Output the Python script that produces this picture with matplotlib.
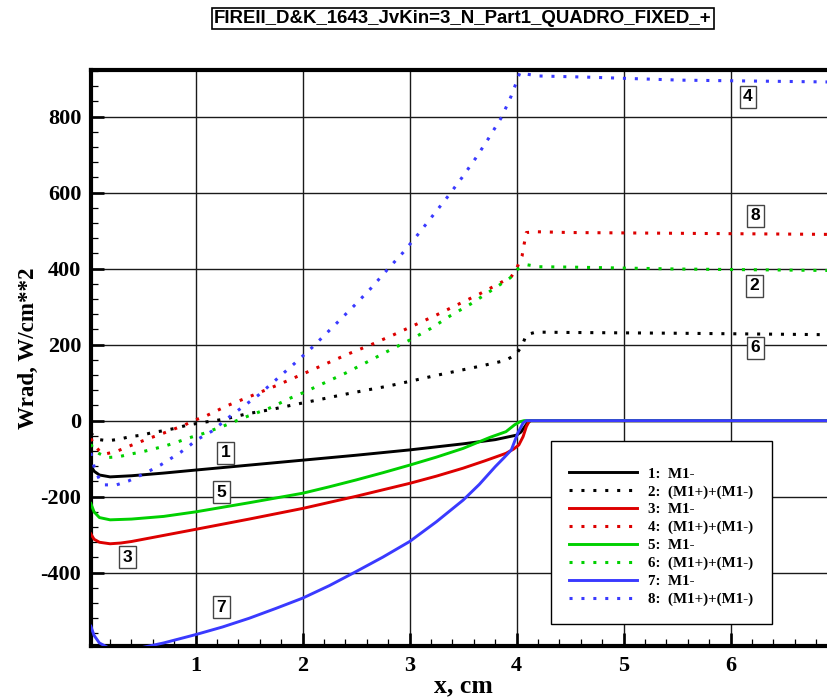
import matplotlib
matplotlib.use("Agg")
import matplotlib.pyplot as plt
from matplotlib.ticker import MultipleLocator, FixedLocator
from matplotlib.patches import Rectangle

plt.rcParams["axes.unicode_minus"] = False

# ---- data -------------------------------------------------------------
title = "FIREII_D&K_1643_JvKin=3_N_Part1_QUADRO_FIXED_+"
x_label = "x, cm"
y_label = "Wrad, W/cm**2"
x_ticks = [1, 2, 3, 4, 5, 6]
y_ticks = [-400, -200, 0, 200, 400, 600, 800]

legend_labels = ["1:  M1-", "2:  (M1+)+(M1-)", "3:  M1-", "4:  (M1+)+(M1-)",
                 "5:  M1-", "6:  (M1+)+(M1-)", "7:  M1-", "8:  (M1+)+(M1-)"]

x1 = [0.02, 0.05, 0.1, 0.2, 0.4, 0.7, 1.0, 1.5, 2.0, 2.5, 3.0, 3.5, 3.8, 3.9,
      4.0, 4.04, 4.07, 4.1, 4.13, 4.2, 6.97]
y1 = [-118, -133, -143, -148, -145, -138, -130, -117, -104, -91, -77, -61, -50,
      -44, -38, -30, -18, -6, 0, 0, 0]

x2 = [0.02, 0.05, 0.1, 0.18, 0.28, 0.39, 0.5, 0.6, 0.71, 0.81, 0.92, 1.06, 1.27,
      1.48, 1.7, 1.92, 2.15, 2.37, 2.59, 2.8, 3.01, 3.23, 3.45, 3.67, 3.89, 3.99,
      4.05, 4.09, 4.18, 4.5, 5.5, 6.97]
y2 = [-32, -42, -50, -53, -49, -42, -38, -31, -26, -20, -12, -5, 4, 18, 29, 42,
      55, 68, 80, 91, 104, 118, 131, 144, 158, 173, 197, 226, 233, 232, 230, 226]

x3 = [0.02, 0.05, 0.1, 0.2, 0.3, 0.4, 0.7, 1.0, 1.5, 2.0, 2.25, 2.5, 2.75, 3.0,
      3.25, 3.5, 3.7, 3.9, 3.97, 4.02, 4.06, 4.09, 4.12, 4.2, 6.97]
y3 = [-298, -312, -320, -324, -322, -318, -302, -286, -259, -231, -215, -199,
      -182, -165, -146, -125, -106, -86, -75, -64, -42, -16, 0, 0, 0]

x4 = [0.02, 0.05, 0.1, 0.15, 0.26, 0.37, 0.46, 0.57, 0.68, 0.79, 0.9, 0.98, 1.1,
      1.3, 1.51, 1.76, 2.02, 2.22, 2.43, 2.64, 2.85, 3.05, 3.25, 3.46, 3.65,
      3.85, 3.95, 4.0, 4.05, 4.07, 4.09, 4.19, 4.5, 5.5, 6.97]
y4 = [-47, -62, -80, -88, -81, -68, -58, -46, -35, -23, -11, 0, 13, 40, 64, 93,
      125, 150, 176, 200, 226, 252, 278, 307, 333, 363, 379, 401, 433, 465, 495,
      497, 495, 493, 490]

x5 = [0.02, 0.05, 0.1, 0.2, 0.4, 0.7, 1.0, 1.5, 2.0, 2.25, 2.5, 2.75, 3.0, 3.25,
      3.5, 3.75, 3.9, 3.98, 4.03, 4.07, 4.2, 6.97]
y5 = [-218, -240, -255, -261, -259, -252, -240, -216, -191, -174, -156, -137,
      -117, -96, -73, -44, -29, -11, -3, 0, 0, 0]

x6 = [0.02, 0.05, 0.1, 0.18, 0.28, 0.39, 0.5, 0.6, 0.71, 0.82, 0.93, 1.07, 1.27,
      1.48, 1.69, 1.89, 2.0, 2.2, 2.4, 2.6, 2.79, 3.0, 3.2, 3.38, 3.57, 3.76,
      3.94, 4.01, 4.1, 4.21, 4.5, 5.5, 6.97]
y6 = [-62, -78, -87, -97, -95, -88, -82, -75, -67, -57, -46, -34, -13, 11, 33,
      60, 73, 99, 125, 154, 182, 212, 243, 276, 307, 342, 376, 399, 410, 405,
      404, 399, 395]

x7 = [0.02, 0.05, 0.1, 0.2, 0.35, 0.5, 0.7, 1.0, 1.25, 1.5, 1.75, 2.0, 2.25,
      2.5, 2.75, 3.0, 3.25, 3.5, 3.65, 3.8, 3.88, 3.95, 4.01, 4.06, 4.09, 4.2,
      6.97]
y7 = [-541, -565, -585, -600, -603, -597, -585, -563, -543, -520, -494, -467,
      -434, -397, -359, -318, -266, -209, -168, -121, -98, -77, -33, -6, 0, 0, 0]

x8 = [0.02, 0.05, 0.1, 0.15, 0.26, 0.37, 0.47, 0.57, 0.67, 0.76, 0.86, 0.95,
      1.0, 1.15, 1.32, 1.59, 1.76, 1.93, 2.09, 2.33, 2.49, 2.64, 2.79, 2.94,
      3.08, 3.22, 3.36, 3.49, 3.62, 3.74, 3.86, 3.95, 3.99, 4.03, 4.09, 4.2,
      4.65, 5.53, 6.97]
y8 = [-85, -121, -155, -169, -169, -159, -146, -132, -117, -101, -83, -64, -52,
      -28, 11, 68, 110, 152, 193, 260, 305, 349, 397, 443, 491, 541, 591, 640,
      692, 744, 799, 855, 885, 916, 912, 907, 904, 896, 891]

# boxed curve tags: text, x, y
tag_text = ["1", "5", "3", "7", "4", "8", "2", "6"]
tag_x = [1.28, 1.24, 0.36, 1.24, 6.16, 6.23, 6.22, 6.23]
tag_y = [-85, -188, -359, -491, 852, 539, 355, 192]

# ---- style ------------------------------------------------------------
BLACK, RED, GREEN, BLUE = "#000000", "#dd0000", "#00d000", "#3a3aff"
series = [
    (x1, y1, BLACK, "-"), (x2, y2, BLACK, ":"),
    (x3, y3, RED, "-"), (x4, y4, RED, ":"),
    (x5, y5, GREEN, "-"), (x6, y6, GREEN, ":"),
    (x7, y7, BLUE, "-"), (x8, y8, BLUE, ":"),
]
SERIF = ["Liberation Serif", "DejaVu Serif"]
SANS = ["Liberation Sans", "DejaVu Sans"]

W, H = 828, 699
fig = plt.figure(figsize=(W / 100, H / 100), dpi=100)
ax = fig.add_axes([91 / W, 1 - 646 / H, (835 - 91) / W, (646 - 69.5) / H])

for (xs, ys, col, ls), lab in zip(series, legend_labels):
    if ls == "-":
        ax.plot(xs, ys, color=col, lw=2.1, label=lab, zorder=3,
                solid_joinstyle="round")
    else:
        ax.plot(xs, ys, color=col, lw=2.2, linestyle=(0, (1.0, 2.9)),
                dash_capstyle="butt", label=lab, zorder=3)

ax.set_xlim(0.0215, 6.975)
ax.set_ylim(-593, 924)

ax.xaxis.set_major_locator(FixedLocator(x_ticks))
ax.yaxis.set_major_locator(FixedLocator(y_ticks))
ax.xaxis.set_minor_locator(MultipleLocator(0.2))
ax.yaxis.set_minor_locator(MultipleLocator(40))
ax.grid(True, which="major", color="#1a1a1a", lw=1.0, zorder=1)
ax.set_axisbelow(True)

ax.tick_params(which="major", direction="in", length=9.5, width=1.9,
               top=False, right=False, pad=7)
ax.tick_params(which="minor", direction="in", length=5, width=0.9,
               top=False, right=False)
for lbl in ax.get_xticklabels() + ax.get_yticklabels():
    lbl.set_fontfamily(SERIF)
    lbl.set_fontweight("bold")
    lbl.set_fontsize(16)

for side in ("left", "bottom", "top"):
    ax.spines[side].set_linewidth(3.0)
ax.spines["right"].set_visible(False)

for t, tx, ty in zip(tag_text, tag_x, tag_y):
    ax.text(tx, ty, t, ha="center", va="center", fontsize=12.5,
            fontfamily=SANS, fontweight="bold", zorder=4,
            bbox=dict(boxstyle="square,pad=0.2", fc="white", ec="#444444",
                      lw=1.0))

# legend frame (white box) under the legend entries
ax.add_patch(Rectangle((551 / W, 1 - 624 / H), (772 - 551) / W,
                       (624 - 441) / H, transform=fig.transFigure,
                       fc="white", ec="black", lw=1.0, zorder=4,
                       clip_on=False))
leg = ax.legend(loc="upper left", bbox_to_anchor=(569 / W, 1 - 467 / H),
                bbox_transform=fig.transFigure, frameon=False, borderpad=0,
                borderaxespad=0, handlelength=4.5, handletextpad=0.75,
                labelspacing=0.29,
                prop=dict(family=SERIF, weight="bold", size=10.8))
leg.set_zorder(6)

fig.text(463 / W, 1 - 18.5 / H, title, ha="center", va="center",
         fontfamily=SANS, fontweight="bold", fontsize=13.4,
         bbox=dict(boxstyle="square,pad=0.12", fc="white", ec="black", lw=1.2))
fig.text(463 / W, 1 - 692 / H, x_label, ha="center", va="baseline",
         fontfamily=SERIF, fontweight="bold", fontsize=18.5)
fig.text(28 / W, 1 - 348 / H, y_label, ha="center", va="center",
         rotation=90, fontfamily=SERIF, fontweight="bold", fontsize=16.6)

fig.savefig("out.png", dpi=100)
